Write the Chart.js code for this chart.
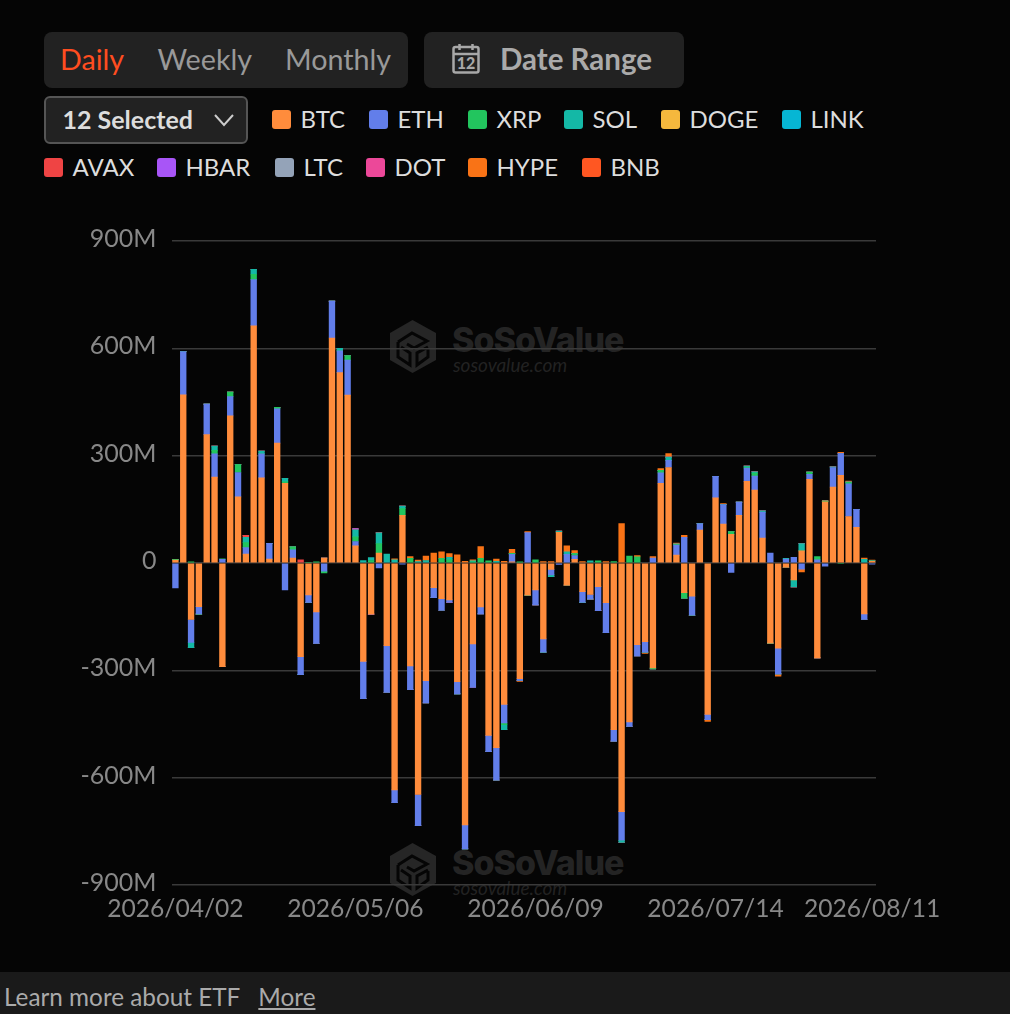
<!DOCTYPE html>
<html>
<head>
<meta charset="utf-8">
<title>ETF Daily Net Flow</title>
<script src="https://cdn.jsdelivr.net/npm/chart.js@4"></script>
<style>
  html, body { margin: 0; padding: 0; background: #050505; width: 1010px; height: 1014px; overflow: hidden; font-family: Lato, sans-serif; }
  .box { position: absolute; background: #222; border-radius: 8px; box-sizing: border-box; }
  .tab { position: absolute; top: 41px; font-size: 28.7px; line-height: 36px; color: #999; white-space: nowrap; }
  #legend span { position: absolute; font-size: 24px; line-height: 30px; color: #ddd; white-space: nowrap; }
  #legend i { position: absolute; width: 19px; height: 19px; border-radius: 3px; }
  .mark { position: absolute; left: 390px; }
  .mark .name { position: absolute; left: 62px; top: -1px; font: 800 34px Inter, sans-serif; color: #242424; letter-spacing: -1px; white-space: nowrap; }
  .mark .site { position: absolute; left: 63px; top: 33px; font: italic 19px Lato, sans-serif; color: #222; white-space: nowrap; }
  #chart { position: absolute; left: 0; top: 0; }
  #foot { position: absolute; left: 0; top: 972px; width: 1010px; height: 42px; background: #1a1a1a; color: #aaa; font-size: 24.3px; line-height: 50px; }
</style>
</head>
<body>
<div class="box" style="left:44px;top:32px;width:364px;height:56px"></div>
<div class="tab" style="left:60px;color:#ff4d20">Daily</div>
<div class="tab" style="left:157.5px">Weekly</div>
<div class="tab" style="left:285px">Monthly</div>
<div class="box" style="left:424px;top:32px;width:260px;height:56px"></div>
<svg style="position:absolute;left:452px;top:43px" width="28" height="31" viewBox="0 0 28 31" fill="none" stroke="#a8a8a8" stroke-width="2.5">
  <rect x="1.5" y="4" width="25" height="25.5" rx="2"/><path d="M2 11h24M7.5 1v6M20.5 1v6"/>
  <text x="14" y="26" font-family="Lato" font-size="16" font-weight="900" fill="#a8a8a8" stroke="none" text-anchor="middle">12</text>
</svg>
<div class="tab" style="left:500px;font-size:29.5px;font-weight:700;color:#aaa">Date Range</div>
<div class="box" style="left:44px;top:96px;width:204px;height:48px;border:2px solid #555;border-radius:6px"></div>
<div class="tab" style="left:62.5px;top:101px;font-size:25px;font-weight:700;color:#ddd">12 Selected</div>
<svg style="position:absolute;left:213px;top:113px" width="22" height="14" fill="none" stroke="#ccc" stroke-width="2"><path d="M2 2l9 10 9-10"/></svg>
<div id="legend"></div>

<div class="mark" style="top:320px" id="mark1"></div>
<div class="mark" style="top:843px" id="mark2"></div>

<canvas id="chart" width="1010" height="972"></canvas>

<div id="foot"><span style="margin-left:4px">Learn more about ETF</span><span style="margin-left:18px;text-decoration:underline">More</span></div>

<script>
const dates = [
  '2026/04/02', '2026/04/06', '2026/04/07', '2026/04/08', '2026/04/09', '2026/04/10',
  '2026/04/13', '2026/04/14', '2026/04/15', '2026/04/16', '2026/04/17',
  '2026/04/20', '2026/04/21', '2026/04/22', '2026/04/23', '2026/04/24',
  '2026/04/27', '2026/04/28', '2026/04/29', '2026/04/30', '2026/05/01',
  '2026/05/04', '2026/05/05', '2026/05/06', '2026/05/07', '2026/05/08',
  '2026/05/11', '2026/05/12', '2026/05/13', '2026/05/14', '2026/05/15',
  '2026/05/18', '2026/05/19', '2026/05/20', '2026/05/21', '2026/05/22',
  '2026/05/26', '2026/05/27', '2026/05/28', '2026/05/29',
  '2026/06/01', '2026/06/02', '2026/06/03', '2026/06/04', '2026/06/05',
  '2026/06/08', '2026/06/09', '2026/06/10', '2026/06/11', '2026/06/12',
  '2026/06/15', '2026/06/16', '2026/06/17', '2026/06/18',
  '2026/06/22', '2026/06/23', '2026/06/24', '2026/06/25', '2026/06/26',
  '2026/06/29', '2026/06/30', '2026/07/01', '2026/07/02',
  '2026/07/06', '2026/07/07', '2026/07/08', '2026/07/09', '2026/07/10',
  '2026/07/13', '2026/07/14', '2026/07/15', '2026/07/16', '2026/07/17',
  '2026/07/20', '2026/07/21', '2026/07/22', '2026/07/23', '2026/07/24',
  '2026/07/27', '2026/07/28', '2026/07/29', '2026/07/30', '2026/07/31',
  '2026/08/03', '2026/08/04', '2026/08/05', '2026/08/06', '2026/08/07',
  '2026/08/10', '2026/08/11',
]
const tickDates = ['2026/04/02', '2026/05/06', '2026/06/09', '2026/07/14', '2026/08/11']

// flows in millions of USD, one value per date
const btc = [
  8, 470, -158, -122, 359, 240, -290, 411, 185, 25,
  663, 238, 11, 335, 223, 14, -262, -89, -137, 14,
  629, 532, 469, 48, -275, -143, 28, -231, -634, 133,
  -288, -647, -329, -69, -100, -103, -332, -732, -226, -123,
  -482, -516, -395, 3, -323, -90, -75, -212, -18, 86,
  -62, 10, -80, -88, -66, -111, -466, -695, -444, -228,
  -220, -293, 223, 267, 22, -83, -93, 92, -423, 182,
  109, 80, 133, 228, 204, 70, -224, -238, -12, -47,
  34, 234, -265, 171, 212, 245, 130, 100, -142, 5,
]
const eth = [
  -70, 121, -64, -20, 85, 65, 10, 54, 68, 18,
  129, 67, 44, 96, -75, 23, -50, -21, -88, -23,
  103, 61, 98, 12, -104, 0, -14, -131, -36, -3,
  -66, -87, -62, -28, -32, -7, -34, -67, -122, -19,
  -45, -91, -52, 21, -5, 85, -42, -37, -15, -4,
  24, 11, -30, -13, -67, -84, -32, -80, -13, -32,
  -29, 14, 29, 20, 28, 72, -53, 18, -15, 60,
  54, -26, 37, 37, 39, 72, 28, -72, 11, 16,
  -17, 14, 9, -9, 55, 61, 91, 50, -16, -3,
]
const xrp = [
  2, 0, 3, -1, 0, 10, 2, 13, 22, 14,
  15, 0, 0, 4, 4, 8, 0, 2, 3, -5,
  0, 0, 13, 13, 0, 7, 26, 0, 0, 19,
  13, 0, 0, 0, 13, 9, 0, 0, 3, 13,
  6, 0, -5, 3, 3, 0, 9, 0, 0, 0,
  0, 5, 0, 0, 6, 0, 4, 0, 19, 17,
  0, -3, 7, 0, 3, -15, 0, 0, 0, 0,
  0, 8, 0, 3, 8, 0, 0, 0, 0, 0,
  0, 6, 9, 2, 0, -2, 5, 0, 0, 1,
]
const sol = [
  0, 0, -15, 0, 0, 12, 0, 0, 0, 15,
  14, 8, 0, 0, 10, 0, 0, 0, 0, 0,
  0, 7, 0, 20, 7, 8, 30, 25, 9, 7,
  0, 4, 7, 0, 0, 7, 0, 0, 3, 0,
  0, 5, -14, 0, 0, 0, 0, 0, -5, 3,
  7, 0, 0, 6, 0, 0, 0, -6, 0, 0,
  0, 0, 0, 9, 0, 0, 0, 0, 0, 0,
  0, 0, 0, 3, 4, 4, 0, 0, 2, -20,
  20, 0, 0, 0, 2, 0, 0, 0, 10, 0,
]
const avax = [
  0, 0, 0, 0, 0, 0, 0, 0, 0, 5,
  0, 0, 0, 0, 0, 0, 9, 0, 0, 0,
  0, 0, 0, 0, 0, 0, 0, 0, 0, 0,
  0, 0, 0, 0, 0, 0, 0, 0, 0, 0,
  0, 0, 0, 0, 0, 0, 0, 0, 0, 0,
  0, 0, 0, 0, 0, 0, 0, 0, 0, 0,
  0, 0, 0, 0, 0, 0, 0, 0, 0, 0,
  0, 0, 0, 0, 0, 0, 0, 0, 0, 0,
  0, 0, 0, 0, 0, 0, 0, 0, 0, 0,
]
const hbar = [
  0, 0, 0, 0, 0, 0, 0, 0, 0, 0,
  0, 0, 0, 0, 0, 0, 0, 0, 0, 0,
  0, 0, 0, 3, 0, 0, 0, 0, 0, 0,
  0, 0, 0, 0, 0, 0, 0, 0, 0, 0,
  0, 0, 0, 0, 0, 0, 0, 0, 0, 0,
  0, 0, 0, 0, 0, 0, 0, 0, 0, 0,
  0, 0, 0, 0, 0, 0, 0, 0, 0, 0,
  0, 0, 0, 0, 0, 0, 0, 0, 0, 0,
  0, 0, 0, 0, 0, 0, 0, 0, 0, 0,
]
const hype = [
  0, 0, 0, 0, 0, 0, 0, 0, 0, 0,
  0, 0, 0, 0, 0, 0, 0, 0, 0, 0,
  0, 0, 0, 0, 0, 0, 0, 0, 3, 0,
  5, 4, 12, 28, 18, 10, 23, 5, 3, 33,
  0, 6, 5, 11, -3, 3, 0, 4, 4, 0,
  17, 9, 4, 0, 0, 4, 0, 110, 0, 4,
  -4, 4, 5, 10, 3, 5, 0, 0, -5, 0,
  3, 0, 0, 0, 0, 0, 0, -6, 0, 0,
  -8, 0, 0, 2, 0, 3, 3, 0, 4, 2,
]

const legendNames = ['BTC', 'ETH', 'XRP', 'SOL', 'DOGE', 'LINK', 'AVAX', 'HBAR', 'LTC', 'DOT', 'HYPE', 'BNB']
const legendColors = ['#ff8c3c', '#627eea', '#22c55e', '#14b8a6', '#f5b83d', '#06b6d4', '#ef4444', '#a855f7', '#94a3b8', '#ec4899', '#f97316', '#ff5722']
const legendLeft = [272, 369, 468, 564, 661, 782, 44, 157, 275, 366, 468, 582]

// header legend
const legend = document.getElementById('legend')
legendNames.forEach((name, i) => {
  const top = i < 6 ? 110 : 158
  legend.innerHTML += `<i style="left:${legendLeft[i]}px;top:${top}px;background:${legendColors[i]}"></i>` +
    `<span style="left:${legendLeft[i] + 28.5}px;top:${top - 6}px">${name}</span>`
})

// watermark, sits behind the canvas
const logo = `<svg width="48" height="54" viewBox="0 0 48 54" fill="none" stroke="#050505" stroke-width="3">
  <path d="M22.5 0 46 13V40L22.5 53 0 40V13Z" fill="#262626" stroke="none"/>
  <path d="M8 22 22 13 37 21 24 28 17 24"/><path d="M8 22V37L20 45V33L11 27"/><path d="M38 28V37L27 45V33L38 27"/></svg>`
;['mark1', 'mark2'].forEach((id) => {
  document.getElementById(id).innerHTML = logo + '<div class="name">SoSoValue</div><div class="site">sosovalue.com</div>'
})

function series(label, data) {
  const color = legendColors[legendNames.indexOf(label)]
  return { label, data, backgroundColor: color, stack: 'flow', barThickness: 5.7 }
}

const ctx = document.getElementById('chart').getContext('2d')
const chart = new Chart(ctx, {
  type: 'bar',
  data: {
    labels: dates,
    datasets: [
      series('BTC', btc),
      series('ETH', eth),
      series('XRP', xrp),
      series('SOL', sol),
      series('AVAX', avax),
      series('HBAR', hbar),
      series('HYPE', hype),
    ],
  },
  options: {
    responsive: false,
    animation: false,
    layout: { padding: { left: 0, right: 134, top: 241, bottom: 37 } },
    plugins: { legend: { display: false }, tooltip: { enabled: false } },
    scales: {
      x: {
        stacked: true,
        grid: { display: false },
        border: { display: false },
        afterFit(scale) { scale.height = 50 },
        ticks: {
          autoSkip: false,
          maxRotation: 0,
          minRotation: 0,
          padding: 1,
          color: '#888',
          font: { family: 'Lato', size: 24.6 },
          callback(value) {
            const label = this.getLabelForValue(value)
            return tickDates.includes(label) ? label : ''
          },
        },
      },
      y: {
        stacked: true,
        min: -900,
        max: 900,
        afterFit(scale) { scale.width = 171.5 },
        grid: { color: '#3a3a3a', lineWidth: 1.5, drawTicks: false },
        border: { display: false },
        ticks: {
          stepSize: 300,
          padding: 15,
          labelOffset: -2,
          color: '#888',
          font: { family: 'Lato', size: 25 },
          callback: (value) => (value === 0 ? '0' : value + 'M'),
        },
      },
    },
  },
})
</script>
</body>
</html>
